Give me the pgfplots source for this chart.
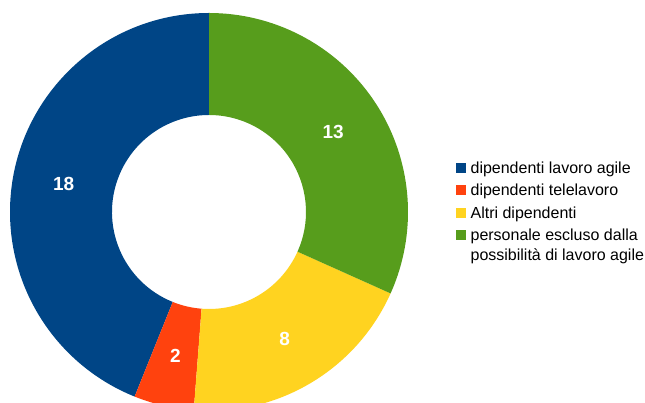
\documentclass[border=0pt]{standalone}
\usepackage{pgfplots}
\pgfplotsset{compat=1.18}
\usepackage{pgfplotstable}
\usepackage{fontspec}
\setmainfont{Liberation Sans}
\definecolor{c1}{HTML}{004586}
\definecolor{c2}{HTML}{FF420E}
\definecolor{c3}{HTML}{FFD320}
\definecolor{c4}{HTML}{579D1C}
\pgfplotstableread{
value color
18 c1
2 c2
8 c3
13 c4
}\donutdata
\begin{document}
\begin{tikzpicture}
\clip (0,0) rectangle (645pt,403pt);
\begin{axis}[
  width=645pt, height=403pt, scale only axis,
  xmin=0, xmax=645, ymin=0, ymax=403,
  hide axis, clip=true,
  legend style={
    at={(axis cs:456,242)}, anchor=north west,
    draw=none, fill=none, inner sep=0pt,
    font=\fontsize{16}{20}\selectfont,
    row sep=6.5pt,
    nodes={inner sep=0pt, text height=12pt, text depth=4pt, anchor=base west},
    /tikz/every odd column/.append style={column sep=5pt},
  },
  legend cell align=left,
  legend image code/.code={\fill[#1] (0pt,1pt) rectangle (9pt,10pt);},
]
\addlegendimage{c1}
\addlegendentry{dipendenti lavoro agile}
\addlegendimage{c2}
\addlegendentry{dipendenti telelavoro}
\addlegendimage{c3}
\addlegendentry{Altri dipendenti}
\addlegendimage{c4}
\addlegendentry{\begin{tabular}[t]{@{}l@{}}personale escluso dalla\\possibilità di lavoro agile\end{tabular}}
\pgfplotsextra{
  \pgfplotstablegetrowsof{\donutdata}
  \pgfmathtruncatemacro{\nrows}{\pgfplotsretval-1}
  \gdef\total{0}
  \foreach \i in {0,...,\nrows}{
    \pgfplotstablegetelem{\i}{value}\of{\donutdata}
    \pgfmathsetmacro{\tt}{\total+\pgfplotsretval}
    \xdef\total{\tt}
  }
  \gdef\startang{90}
  \foreach \i in {0,...,\nrows}{
    \pgfplotstablegetelem{\i}{value}\of{\donutdata}
    \let\val\pgfplotsretval
    \pgfplotstablegetelem{\i}{color}\of{\donutdata}
    \let\col\pgfplotsretval
    \pgfmathsetmacro{\endang}{\startang+\val*360/\total}
    \pgfmathsetmacro{\midang}{(\startang+\endang)/2}
    \fill[\col, shift={(axis cs:209,191)}]
      (\startang:199pt) arc[start angle=\startang, end angle=\endang, radius=199pt]
      -- (\endang:97pt) arc[start angle=\endang, end angle=\startang, radius=97pt] -- cycle;
    \node[white, font=\fontsize{19}{22}\selectfont\bfseries, shift={(axis cs:209,191)}]
      at (\midang:148pt) {\val};
    \xdef\startang{\endang}
  }
}
\end{axis}
\end{tikzpicture}
\end{document}
